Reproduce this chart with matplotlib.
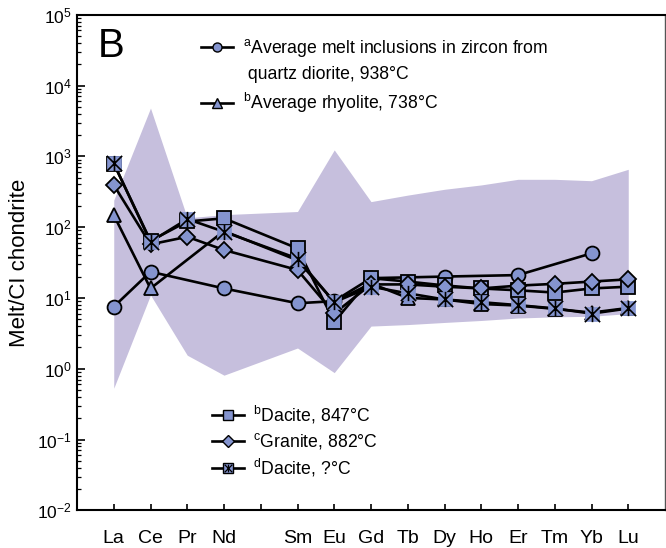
import numpy as np
import matplotlib
matplotlib.use("Agg")
import matplotlib.pyplot as plt
from matplotlib.path import Path
from matplotlib.lines import Line2D
from matplotlib.ticker import LogFormatterSciNotation, NullFormatter, FixedLocator

plt.rcParams['font.family'] = ['Liberation Sans', 'DejaVu Sans']
plt.rcParams['mathtext.fontset'] = 'custom'
plt.rcParams['mathtext.rm'] = 'Liberation Sans'
plt.rcParams['mathtext.it'] = 'Liberation Sans:italic'
plt.rcParams['mathtext.bf'] = 'Liberation Sans:bold'

# ---- data ----
elements = ['La', 'Ce', 'Pr', 'Nd', 'Pm', 'Sm', 'Eu', 'Gd', 'Tb', 'Dy', 'Ho', 'Er', 'Tm', 'Yb', 'Lu']
tick_labels = ['La', 'Ce', 'Pr', 'Nd', '', 'Sm', 'Eu', 'Gd', 'Tb', 'Dy', 'Ho', 'Er', 'Tm', 'Yb', 'Lu']
N = np.nan
melt_inclusions = [7.5, 23.4, N, 13.6, N, 8.4, 9.0, 19.0, N, 20.0, N, 21.0, N, 42.6, N]
rhyolite        = [148, 13.6, N, 88, N, 34, 8.8, 16.0, 10.0, 9.5, 8.2, 7.8, 7.0, 6.2, 7.2]
dacite_b        = [790, 64, 120, 133, N, 50, 4.6, 19.0, 17.0, 15.0, 13.6, 12.8, 11.9, 13.6, 14.4]
granite         = [394, 57, 73, 47.5, N, 24.8, 6.05, 15.5, 15.5, 14.4, 13.6, 14.9, 15.8, 17.0, 18.3]
dacite_d        = [800, 62, 130, 86, N, 36, 8.7, 14.4, 11.6, 9.5, 8.7, 7.9, 7.1, 6.0, 7.1]

range_upper = [240, 4800, 135, 150, N, 166, 1230, 229, 283, 342, 394, 473, 473, 452, 655]
range_lower = [0.53, 11, 1.55, 0.81, N, 1.96, 0.88, 4.0, 4.2, 4.5, 4.8, 5.2, 5.4, 5.5, 6.0]

y_major = [1e-2, 1e-1, 1e0, 1e1, 1e2, 1e3, 1e4, 1e5]

labels = [r'$^{\mathrm{a}}$Average melt inclusions in zircon from',
          ' quartz diorite, 938°C',
          r'$^{\mathrm{b}}$Average rhyolite, 738°C',
          r'$^{\mathrm{b}}$Dacite, 847°C',
          r'$^{\mathrm{c}}$Granite, 882°C',
          r'$^{\mathrm{d}}$Dacite, ?°C']

# ---- styles ----
face = '#8494cf'
shade = '#c6bfdd'
lw = 1.9

xpos = np.arange(1, len(elements) + 1)

fig = plt.figure(figsize=(6.66, 5.48), dpi=100)
ax = fig.add_axes([77/666, 1 - 510.3/548, 588/666, 495.6/548])

# shaded range
ru = np.array(range_upper, float); rl = np.array(range_lower, float)
m = np.isfinite(ru)
ax.fill_between(xpos[m], rl[m], ru[m], color=shade, linewidth=0, zorder=1)

def series(vals):
    v = np.array(vals, float)
    k = np.isfinite(v)
    return xpos[k], v[k]

star = Path([(0, -1), (0, 1), (-1, -1), (1, 1), (-1, 1), (1, -1)],
            [Path.MOVETO, Path.LINETO, Path.MOVETO, Path.LINETO, Path.MOVETO, Path.LINETO])

x, y = series(melt_inclusions)
ax.plot(x, y, '-', color='black', lw=lw, marker='o', ms=10, mfc=face, mec='black', mew=1.3, zorder=3)
x, y = series(rhyolite)
ax.plot(x, y, '-', color='black', lw=lw, marker='^', ms=10, mfc=face, mec='black', mew=1.3, zorder=3)
x, y = series(dacite_b)
ax.plot(x, y, '-', color='black', lw=lw, marker='s', ms=10, mfc=face, mec='black', mew=1.3, zorder=3)
x, y = series(granite)
ax.plot(x, y, '-', color='black', lw=lw, marker='D', ms=8.5, mfc=face, mec='black', mew=1.3, zorder=3)
x, y = series(dacite_d)
ax.plot(x, y, '-', color='black', lw=lw, marker='s', ms=10.5, mfc=face, mec=face, mew=0.5, zorder=3)
ax.plot(x, y, linestyle='none', marker=star, ms=11, mec='black', mew=1.2, zorder=4)

ax.set_yscale('log')
ax.set_ylim(1e-2, 1e5)
ax.set_xlim(0, 16)
ax.xaxis.set_major_locator(FixedLocator(xpos))
ax.set_xticklabels(tick_labels, fontsize=14)
minor = [d * k for d in y_major[:-1] for k in range(2, 10)]
ax.yaxis.set_major_locator(FixedLocator(y_major))
ax.yaxis.set_minor_locator(FixedLocator(minor))
ax.yaxis.set_major_formatter(LogFormatterSciNotation())
ax.yaxis.set_minor_formatter(NullFormatter())
ax.tick_params(axis='y', which='major', direction='in', length=6, width=1.2, labelsize=12.5, pad=4)
ax.tick_params(axis='y', which='minor', direction='in', length=3, width=0.9)
ax.tick_params(axis='x', which='major', direction='in', length=4, width=1.2, pad=14)
ax.set_ylabel('Melt/CI chondrite', fontsize=16, labelpad=5)

for s in ['left', 'bottom', 'top']:
    ax.spines[s].set_linewidth(1.5)
ax.spines['right'].set_linewidth(1.0)
ax.spines['right'].set_color('#555555')

ax.text(0.036, 0.9146, 'B', transform=ax.transAxes, fontsize=29, va='baseline', ha='left')

# legends
h_circ = Line2D([], [], color='black', lw=lw, marker='o', ms=6.5, mfc=face, mec='black', mew=1.0)
h_blank = Line2D([], [], linestyle='none')
h_tri = Line2D([], [], color='black', lw=lw, marker='^', ms=6.5, mfc=face, mec='black', mew=1.0)
leg1 = ax.legend([h_circ, h_blank, h_tri], labels[:3], loc='upper left',
                 bbox_to_anchor=(0.211, 0.955), frameon=False, fontsize=12.7,
                 handlelength=1.8, handletextpad=0.55, labelspacing=0.42, borderpad=0, borderaxespad=0)
ax.add_artist(leg1)

h_sq = Line2D([], [], color='black', lw=lw, marker='s', ms=6.5, mfc=face, mec='black', mew=1.0)
h_di = Line2D([], [], color='black', lw=lw, marker='D', ms=6, mfc=face, mec='black', mew=1.0)
h_st = Line2D([], [], color='black', lw=lw, marker='s', ms=6.5, mfc=face, mec='black', mew=1.0)
h_st2 = Line2D([], [], linestyle='none', marker=star, ms=5.5, mec='black', mew=0.9)
ax.legend([h_sq, h_di, (h_st, h_st2)], labels[3:], loc='upper left',
          bbox_to_anchor=(0.2296, 0.2145), frameon=False, fontsize=12.7,
          handlelength=1.8, handletextpad=0.55, labelspacing=0.3, borderpad=0, borderaxespad=0)

fig.savefig('out.png', dpi=100)
